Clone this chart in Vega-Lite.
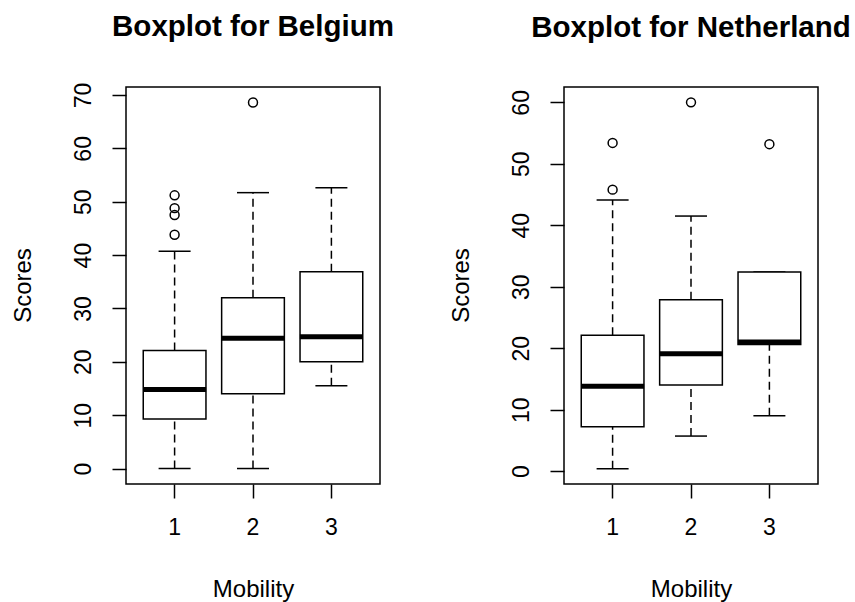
{
  "$schema": "https://vega.github.io/schema/vega-lite/v6.json",
  "padding": {"left": 10, "top": 11, "right": 0, "bottom": 0},
  "background": "white",
  "config": {
    "font": "Liberation Sans",
    "view": {"stroke": "black", "strokeWidth": 1.5},
    "axis": {"grid": false, "domain": false, "tickColor": "black", "tickWidth": 1.5, "tickSize": 14, "labelColor": "black", "titleColor": "black", "labelFontSize": 23, "titleFontSize": 24, "titleFontWeight": "normal", "labelFont": "Liberation Sans", "titleFont": "Liberation Sans"},
    "title": {"fontSize": 29.5, "fontWeight": "bold", "color": "black", "anchor": "middle", "frame": "group", "baseline": "alphabetic", "font": "Liberation Sans"}
  },
  "datasets": {
    "be_box": [
      {"Mobility": "1", "lower": 0, "q1": 9.3, "median": 14.8, "q3": 22.1, "upper": 40.7},
      {"Mobility": "2", "lower": 0, "q1": 14.0, "median": 24.4, "q3": 32.0, "upper": 51.7},
      {"Mobility": "3", "lower": 15.5, "q1": 20.0, "median": 24.7, "q3": 36.9, "upper": 52.6}
    ],
    "be_out": [
      {"Mobility": "1", "Scores": 43.8},
      {"Mobility": "1", "Scores": 47.5},
      {"Mobility": "1", "Scores": 48.8},
      {"Mobility": "1", "Scores": 51.2},
      {"Mobility": "2", "Scores": 68.6}
    ],
    "nl_box": [
      {"Mobility": "1", "lower": 0.4, "q1": 7.2, "median": 13.8, "q3": 22.1, "upper": 44.1},
      {"Mobility": "2", "lower": 5.7, "q1": 14.0, "median": 19.1, "q3": 27.9, "upper": 41.5},
      {"Mobility": "3", "lower": 9.0, "q1": 20.6, "median": 21.0, "q3": 32.4, "upper": 32.4}
    ],
    "nl_out": [
      {"Mobility": "1", "Scores": 45.8},
      {"Mobility": "1", "Scores": 53.4},
      {"Mobility": "2", "Scores": 60.0},
      {"Mobility": "3", "Scores": 53.2}
    ]
  },
  "hconcat": [
    {
      "width": 254,
      "height": 397,
      "title": {"text": "Boxplot for Belgium", "offset": 39.5},
      "encoding": {
        "x": {"field": "Mobility", "type": "nominal", "scale": {"type": "band", "domain": ["1", "2", "3"], "paddingInner": 0.2, "paddingOuter": 0.22},
          "axis": {"orient": "bottom", "labelAngle": 0, "labelBaseline": "alphabetic", "labelPadding": 36, "title": "Mobility", "titleX": 127, "titleY": 112, "titleBaseline": "alphabetic", "titleAlign": "center", "titleAnchor": null}}
      },
      "layer": [
        {
          "data": {"name": "be_box"},
          "mark": {"type": "rule", "stroke": "black", "strokeWidth": 1.5, "strokeDash": [8, 5]},
          "encoding": {
            "y": {"field": "lower", "type": "quantitative", "scale": {"domain": [-2.9, 71.5], "nice": false, "zero": false},
              "axis": {"values": [0, 10, 20, 30, 40, 50, 60, 70], "labelAngle": -90, "labelAlign": "center", "labelBaseline": "alphabetic", "labelPadding": 22, "title": "Scores", "titleAngle": -90, "titleX": -96, "titleY": 198, "titleBaseline": "alphabetic", "titleAlign": "center", "titleAnchor": null}},
            "y2": {"field": "q1"}
          }
        },
        {
          "data": {"name": "be_box"},
          "mark": {"type": "rule", "stroke": "black", "strokeWidth": 1.5, "strokeDash": [8, 5]},
          "encoding": {"y": {"field": "q3", "type": "quantitative"}, "y2": {"field": "upper"}}
        },
        {
          "data": {"name": "be_box"},
          "mark": {"type": "tick", "color": "black", "size": 32, "thickness": 1.5, "opacity": 1},
          "encoding": {"y": {"field": "lower", "type": "quantitative"}}
        },
        {
          "data": {"name": "be_box"},
          "mark": {"type": "tick", "color": "black", "size": 32, "thickness": 1.5, "opacity": 1},
          "encoding": {"y": {"field": "upper", "type": "quantitative"}}
        },
        {
          "data": {"name": "be_box"},
          "mark": {"type": "bar", "fill": "white", "stroke": "black", "strokeWidth": 1.5, "opacity": 1},
          "encoding": {"y": {"field": "q1", "type": "quantitative"}, "y2": {"field": "q3"}}
        },
        {
          "data": {"name": "be_box"},
          "mark": {"type": "tick", "color": "black", "size": 63, "thickness": 5, "opacity": 1},
          "encoding": {"y": {"field": "median", "type": "quantitative"}}
        },
        {
          "data": {"name": "be_out"},
          "mark": {"type": "point", "shape": "circle", "filled": false, "stroke": "black", "strokeWidth": 1.5, "size": 80, "opacity": 1},
          "encoding": {"y": {"field": "Scores", "type": "quantitative"}}
        }
      ]
    },
    {
      "width": 254,
      "height": 397,
      "title": {"text": "Boxplot for Netherland", "offset": 44},
      "encoding": {
        "x": {"field": "Mobility", "type": "nominal", "scale": {"type": "band", "domain": ["1", "2", "3"], "paddingInner": 0.2, "paddingOuter": 0.22},
          "axis": {"orient": "bottom", "labelAngle": 0, "labelBaseline": "alphabetic", "labelPadding": 36, "title": "Mobility", "titleX": 127, "titleY": 112, "titleBaseline": "alphabetic", "titleAlign": "center", "titleAnchor": null}}
      },
      "layer": [
        {
          "data": {"name": "nl_box"},
          "mark": {"type": "rule", "stroke": "black", "strokeWidth": 1.5, "strokeDash": [8, 5]},
          "encoding": {
            "y": {"field": "lower", "type": "quantitative", "scale": {"domain": [-2.1, 62.5], "nice": false, "zero": false},
              "axis": {"values": [0, 10, 20, 30, 40, 50, 60], "labelAngle": -90, "labelAlign": "center", "labelBaseline": "alphabetic", "labelPadding": 22, "title": "Scores", "titleAngle": -90, "titleX": -96, "titleY": 198, "titleBaseline": "alphabetic", "titleAlign": "center", "titleAnchor": null}},
            "y2": {"field": "q1"}
          }
        },
        {
          "data": {"name": "nl_box"},
          "mark": {"type": "rule", "stroke": "black", "strokeWidth": 1.5, "strokeDash": [8, 5]},
          "encoding": {"y": {"field": "q3", "type": "quantitative"}, "y2": {"field": "upper"}}
        },
        {
          "data": {"name": "nl_box"},
          "mark": {"type": "tick", "color": "black", "size": 32, "thickness": 1.5, "opacity": 1},
          "encoding": {"y": {"field": "lower", "type": "quantitative"}}
        },
        {
          "data": {"name": "nl_box"},
          "mark": {"type": "tick", "color": "black", "size": 32, "thickness": 1.5, "opacity": 1},
          "encoding": {"y": {"field": "upper", "type": "quantitative"}}
        },
        {
          "data": {"name": "nl_box"},
          "mark": {"type": "bar", "fill": "white", "stroke": "black", "strokeWidth": 1.5, "opacity": 1},
          "encoding": {"y": {"field": "q1", "type": "quantitative"}, "y2": {"field": "q3"}}
        },
        {
          "data": {"name": "nl_box"},
          "mark": {"type": "tick", "color": "black", "size": 63, "thickness": 5, "opacity": 1},
          "encoding": {"y": {"field": "median", "type": "quantitative"}}
        },
        {
          "data": {"name": "nl_out"},
          "mark": {"type": "point", "shape": "circle", "filled": false, "stroke": "black", "strokeWidth": 1.5, "size": 80, "opacity": 1},
          "encoding": {"y": {"field": "Scores", "type": "quantitative"}}
        }
      ]
    }
  ],
  "spacing": 184,
  "bounds": "flush"
}
